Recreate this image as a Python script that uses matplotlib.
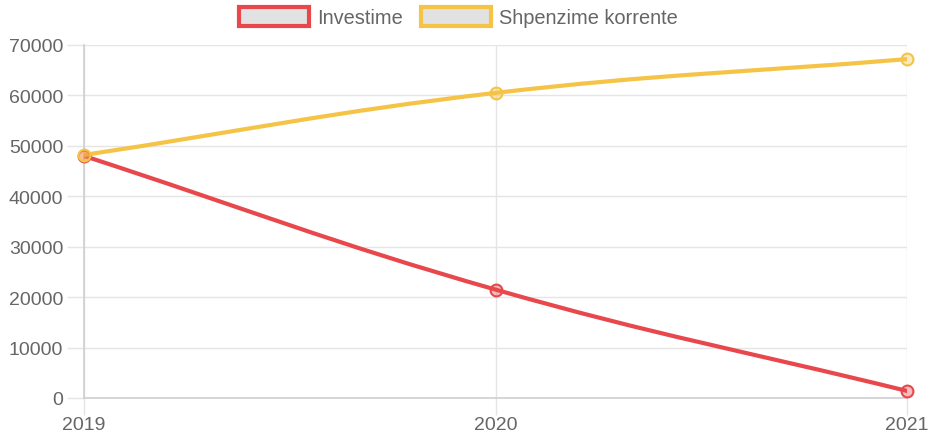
import matplotlib
matplotlib.use("Agg")
import matplotlib.pyplot as plt
import numpy as np
from matplotlib.path import Path
from matplotlib.patches import PathPatch, Patch
from matplotlib.colors import to_rgba

plt.rcParams['font.family'] = ['Liberation Sans', 'DejaVu Sans']

years = ["2019", "2020", "2021"]
investime = [48000, 21500, 1400]
shpenzime = [48200, 60500, 67200]
series_names = ["Investime", "Shpenzime korrente"]
colors = ["#e8474c", "#f5c446"]
yticks = [0, 10000, 20000, 30000, 40000, 50000, 60000, 70000]

W, H = 930, 435
fig = plt.figure(figsize=(W / 100, H / 100), dpi=100)
ax = fig.add_axes([84 / W, 1 - 399 / H, (907 - 84) / W, (399 - 46) / H])
ax.set_xlim(0, len(years) - 1)
ax.set_ylim(0, 70000)

grid_c = "#e5e5e5"
ax.set_xticks(range(len(years)))
ax.set_xticklabels(years)
ax.set_yticks(yticks)
ax.set_yticklabels([str(v) for v in yticks])
ax.grid(True, color=grid_c, linewidth=1.0)
ax.set_axisbelow(True)
for s in ["top", "right"]:
    ax.spines[s].set_visible(False)
for s in ["left", "bottom"]:
    ax.spines[s].set_color("#cfcfcf")
    ax.spines[s].set_linewidth(1.2)
ax.tick_params(axis="both", colors="#666666", labelsize=14, length=12, width=1, color=grid_c)
ax.tick_params(axis="x", pad=1)
ax.tick_params(axis="y", pad=3)


def spline_path(xs, ys, tension=0.4):
    pts = ax.transData.transform(np.column_stack([xs, ys]))
    n = len(pts)
    cps = []
    for i in range(n):
        prev = pts[i - 1] if i > 0 else pts[i]
        cur = pts[i]
        nxt = pts[i + 1] if i < n - 1 else pts[i]
        d01 = np.hypot(*(cur - prev))
        d12 = np.hypot(*(nxt - cur))
        tot = d01 + d12
        s01 = d01 / tot if tot else 0
        s12 = d12 / tot if tot else 0
        fa, fb = tension * s01, tension * s12
        cps.append((cur - fa * (nxt - prev), cur + fb * (nxt - prev)))
    verts = [pts[0]]
    codes = [Path.MOVETO]
    for i in range(n - 1):
        verts += [cps[i][1], cps[i + 1][0], pts[i + 1]]
        codes += [Path.CURVE4] * 3
    verts = ax.transData.inverted().transform(np.array(verts))
    return Path(verts, codes)


xs = np.arange(len(years))
for vals, c in zip([investime, shpenzime], colors):
    p = spline_path(xs, vals)
    ax.add_patch(PathPatch(p, facecolor="none", edgecolor=c, linewidth=3, capstyle="round", joinstyle="round", zorder=3))
    ax.plot(xs, vals, "o", ms=8.5, mfc=to_rgba(c, 0.35), mec=c, mew=1.5, zorder=4, clip_on=False)

handles = [Patch(facecolor="#e2e2e2", edgecolor=c, linewidth=3, label=n) for n, c in zip(series_names, colors)]
fig.legend(handles=handles, loc="center", bbox_to_anchor=(458 / W, 1 - 18 / H), ncol=2, frameon=False,
           fontsize=14.4, handlelength=3.5, handleheight=1.1, handletextpad=0.4, columnspacing=0.9,
           labelcolor="#666666", borderpad=0)

fig.savefig("out.png", dpi=100)
